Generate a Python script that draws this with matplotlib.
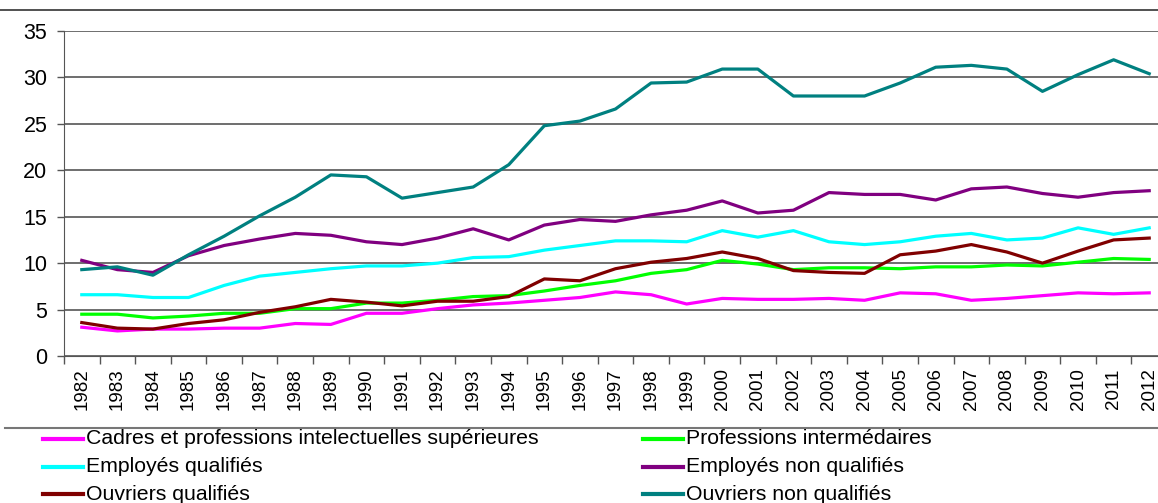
import numpy as np
import matplotlib
matplotlib.use("Agg")
import matplotlib.pyplot as plt
from matplotlib.lines import Line2D

years = [str(y) for y in range(1982, 2013)]

cadres = [3.1, 2.7, 2.9, 2.9, 3.0, 3.0, 3.5, 3.4, 4.6, 4.6, 5.1, 5.5, 5.7, 6.0, 6.3, 6.9,
          6.6, 5.6, 6.2, 6.1, 6.1, 6.2, 6.0, 6.8, 6.7, 6.0, 6.2, 6.5, 6.8, 6.7, 6.8]
prof_inter = [4.5, 4.5, 4.1, 4.3, 4.6, 4.6, 5.1, 5.1, 5.7, 5.7, 6.0, 6.4, 6.5, 7.0, 7.6, 8.1,
              8.9, 9.3, 10.3, 9.9, 9.3, 9.5, 9.5, 9.4, 9.6, 9.6, 9.8, 9.7, 10.1, 10.5, 10.4]
empl_qual = [6.6, 6.6, 6.3, 6.3, 7.6, 8.6, 9.0, 9.4, 9.7, 9.7, 10.0, 10.6, 10.7, 11.4, 11.9, 12.4,
             12.4, 12.3, 13.5, 12.8, 13.5, 12.3, 12.0, 12.3, 12.9, 13.2, 12.5, 12.7, 13.8, 13.1, 13.8]
empl_nonqual = [10.3, 9.3, 9.0, 10.8, 11.9, 12.6, 13.2, 13.0, 12.3, 12.0, 12.7, 13.7, 12.5, 14.1, 14.7, 14.5,
                15.2, 15.7, 16.7, 15.4, 15.7, 17.6, 17.4, 17.4, 16.8, 18.0, 18.2, 17.5, 17.1, 17.6, 17.8]
ouv_qual = [3.6, 3.0, 2.9, 3.5, 3.9, 4.7, 5.3, 6.1, 5.8, 5.4, 5.9, 5.9, 6.4, 8.3, 8.1, 9.4,
            10.1, 10.5, 11.2, 10.5, 9.2, 9.0, 8.9, 10.9, 11.3, 12.0, 11.2, 10.0, 11.3, 12.5, 12.7]
ouv_nonqual = [9.3, 9.6, 8.7, 10.9, 12.9, 15.1, 17.1, 19.5, 19.3, 17.0, 17.6, 18.2, 20.6, 24.8, 25.3, 26.6,
               29.4, 29.5, 30.9, 30.9, 28.0, 28.0, 28.0, 29.4, 31.1, 31.3, 30.9, 28.5, 30.3, 31.9, 30.4]

series = [
    ("Cadres et professions intelectuelles supérieures", cadres, "#ff00ff"),
    ("Professions intermédaires", prof_inter, "#00ff00"),
    ("Employés qualifiés", empl_qual, "#00ffff"),
    ("Employés non qualifiés", empl_nonqual, "#800080"),
    ("Ouvriers qualifiés", ouv_qual, "#800000"),
    ("Ouvriers non qualifiés", ouv_nonqual, "#008080"),
]

plt.rcParams['font.family'] = ['Liberation Sans', 'DejaVu Sans']

W, H = 1158, 503
fig = plt.figure(figsize=(W / 100, H / 100), dpi=100)
ax = fig.add_axes([64 / W, (H - 356) / H, (1167 - 64) / W, 325 / H])

x = np.arange(len(years))
for name, vals, col in series:
    ax.plot(x, vals, color=col, lw=2.3, label=name, solid_joinstyle="round")

ax.set_xlim(-0.5, len(years) - 0.5)
ax.set_ylim(0, 35)
ax.set_yticks(np.arange(0, 36, 5))
ax.set_xticks(x)
ax.set_xticklabels(years, rotation=90, fontsize=13.5)
ax.tick_params(axis="y", labelsize=15.5, length=5, width=1, pad=7, color="#555555")
ax.tick_params(axis="x", length=0, pad=9)
# tick marks between categories
ax.set_xticks(np.arange(-0.5, len(years), 1), minor=True)
ax.tick_params(axis="x", which="minor", length=6, width=1, color="#555555")
ax.yaxis.grid(True, color="#555555", lw=1.2)
ax.set_axisbelow(True)
for s in ["top", "right"]:
    ax.spines[s].set_visible(False)
ax.spines["left"].set_color("#555555")
ax.spines["bottom"].set_color("#555555")

# frame lines of the original chart
fig.add_artist(Line2D([0, 1], [1 - 10 / H, 1 - 10 / H], color="#333333", lw=1.2))
fig.add_artist(Line2D([5 / W, 1], [1 - 428 / H, 1 - 428 / H], color="#777777", lw=1.5))

# legend, two columns
cols_x = [43, 643]
rows_y = [439, 467, 494]
for i, (name, vals, col) in enumerate(series):
    lx = cols_x[i % 2]
    ly = 1 - rows_y[i // 2] / H
    fig.add_artist(Line2D([lx / W, (lx + 40) / W], [ly, ly], color=col, lw=3))
    fig.text((lx + 43) / W, ly, name, fontsize=15.3, va="center", ha="left")

fig.savefig("out.png", dpi=100)
